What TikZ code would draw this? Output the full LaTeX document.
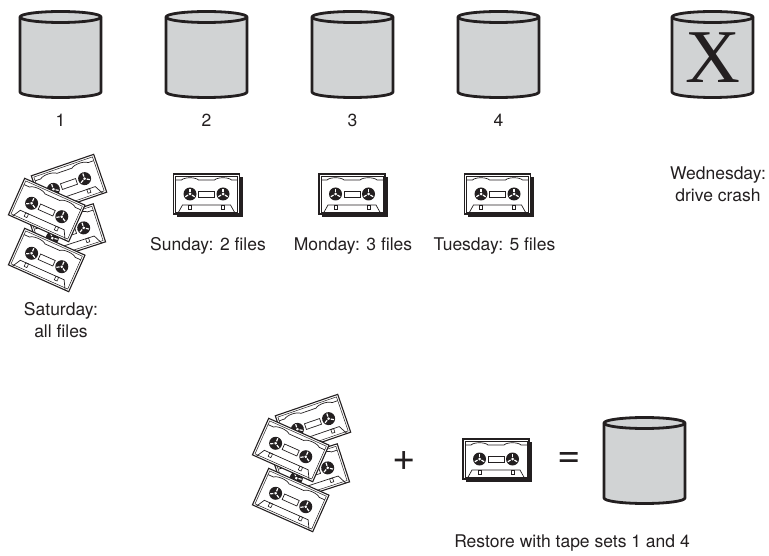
\documentclass[tikz,border=0pt]{standalone}
\usepackage{fontspec}
\setmainfont{TeX Gyre Heros}
\newfontfamily\crossfont{Liberation Serif}

\definecolor{disk}{HTML}{D1D3D4}
\definecolor{ink}{HTML}{231F20}

\tikzset{
  lbl/.style={font=\fontsize{17.5}{22}\selectfont,inner sep=0pt,align=center,text=ink},
  sign/.style={font=\fontsize{40}{40}\selectfont,inner sep=0pt,text=ink},
  drumline/.style={draw=ink,line width=2.8pt,line join=round},
  % a disk drive as an upright cylinder
  pics/drum/.style={code={
    \path[drumline,fill=disk] (-40.5,37.5) -- (-40.5,-37.5)
      arc[start angle=180,end angle=360,x radius=40.5,y radius=5.5]
      -- (40.5,37.5)
      arc[start angle=0,end angle=180,x radius=40.5,y radius=5.5] -- cycle;
    \path[drumline] (-40.5,37.5)
      arc[start angle=180,end angle=360,x radius=40.5,y radius=5.5];
  }},
  % one tape cassette
  pics/cassette/.style={code={
    \filldraw[fill=white,draw=ink,line width=1.1pt] (-33,-20) rectangle (33,20);
    \draw[ink,line width=0.5pt] (-31,-18) rectangle (31,18);
    \draw[ink,line width=0.7pt] (-31,14) -- (-25,14)
      .. controls (-22,17) and (-11,17) .. (-8,14) -- (8,14)
      .. controls (11,17) and (22,17) .. (25,14) -- (31,14);
    \draw[ink,line width=0.7pt] (-8,-3) rectangle (8,3);
    \foreach \s in {-1,1}{
      \fill[ink] (\s*16.5,0) circle (6.5);
      \fill[white] (\s*16.5,0) circle (1.5);
      \foreach \a in {90,210,330}
        \draw[white,line width=1.2pt] (\s*16.5,0) ++(\a:2.2) -- ++(\a:3.2);
    }
    \draw[ink,line width=0.7pt] (-29,-20) -- (-24,-11) -- (24,-11) -- (29,-20);
    \draw[ink,line width=0.6pt] (-18,-11) rectangle (-15,-15) (15,-11) rectangle (18,-15);
  }},
  pics/cassette shadow/.style={code={
    \fill[ink] (-30,-23) rectangle (36,17);
    \pic {cassette};
  }},
  % a full backup set: a heap of cassettes
  pics/tapeset/.style={code={
    \pic[rotate=19] at (13,38) {cassette};
    \pic[rotate=18] at (12,-11) {cassette};
    \pic[rotate=-24] at (-9.3,12) {cassette};
    \pic[rotate=-24] at (-9.3,-38) {cassette};
  }}
}

\begin{document}
\begin{tikzpicture}[x=1pt,y=1pt]
\useasboundingbox (0,0) rectangle (769,555);

% drives
\pic (d1) at (60.5,500.5) {drum};
\pic (d2) at (206.5,500.5) {drum};
\pic (d3) at (352.5,500.5) {drum};
\pic (d4) at (498.5,500.5) {drum};
\pic (d5) at (712.5,500.5) {drum};
\node[font=\crossfont\fontsize{76}{76}\selectfont,inner sep=0pt,text=ink] (cross) at (712.5,497.5) {X};

\node[lbl,anchor=base] (n1) at (60.5,428) {1};
\node[lbl,anchor=base] (n2) at (206.5,428) {2};
\node[lbl,anchor=base] (n3) at (352.5,428) {3};
\node[lbl,anchor=base] (n4) at (498.5,428) {4};

% tapes
\pic (full) at (56,333) {tapeset};
\pic (sunt) at (206.5,361) {cassette shadow};
\pic (mont) at (352,361) {cassette shadow};
\pic (tuet) at (497.5,361) {cassette shadow};

\node[lbl,anchor=north] (sat) at (61,253) {Saturday:\\all files};
\node[lbl,anchor=base] (sun) at (208,304) {Sunday: 2 files};
\node[lbl,anchor=base] (mon) at (353,304) {Monday: 3 files};
\node[lbl,anchor=base] (tue) at (494.5,304) {Tuesday: 5 files};
\node[lbl,anchor=north] (wed) at (718,388) {Wednesday:\\drive crash};

% restore
\pic (fullr) at (300,93) {tapeset};
\node[sign] (plus) at (404,94) {+};
\pic (tuer) at (496,96) {cassette shadow};
\node[sign] (eq) at (569.5,95) {=};
\pic (d6) at (644.5,94.5) {drum};
\node[lbl,anchor=base] (restore) at (572,8) {Restore with tape sets 1 and 4};
\end{tikzpicture}
\end{document}
